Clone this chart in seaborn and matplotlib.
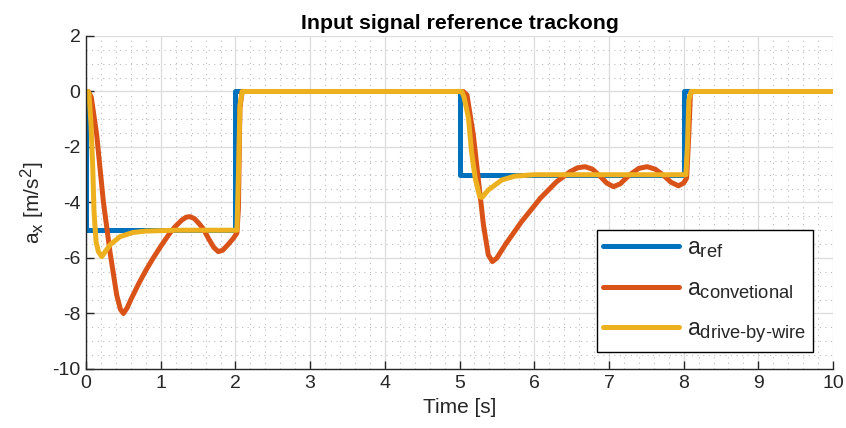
"""Input signal reference tracking plot, MATLAB-like styling."""

import matplotlib

matplotlib.use("Agg")

import matplotlib.pyplot as plt
import matplotlib._mathtext as mathtext_internals
from matplotlib.ticker import MultipleLocator
import seaborn as sns

# reference step signal
t_ref = [0, 0, 2, 2, 5, 5, 8, 8, 10]
a_ref = [0, -5, -5, 0, 0, -3, -3, 0, 0]

# conventional brake response
t_conv = [0, 0.03, 0.07, 0.143, 0.232, 0.32, 0.41, 0.46, 0.5, 0.55, 0.6, 0.7,
          0.8, 0.9, 1.0, 1.12, 1.2, 1.28, 1.34, 1.39, 1.45, 1.51, 1.57, 1.64,
          1.71, 1.77, 1.83, 1.9, 1.97, 2.02, 2.04, 2.06, 2.09, 5.05, 5.1,
          5.185, 5.25, 5.32, 5.385, 5.44, 5.5, 5.61, 5.83, 6.01, 6.08, 6.3,
          6.48, 6.58, 6.68, 6.78, 6.88, 6.97, 7.06, 7.15, 7.27, 7.4, 7.51,
          7.62, 7.73, 7.83, 7.93, 8.0, 8.04, 8.07, 8.09, 8.12, 10]
a_conv = [0, 0, -0.2, -1.57, -3.97, -5.77, -7.33, -7.85, -8.0, -7.8, -7.5,
          -6.95, -6.45, -6.0, -5.58, -5.11, -4.85, -4.64, -4.53, -4.51,
          -4.58, -4.75, -4.95, -5.3, -5.62, -5.77, -5.72, -5.52, -5.3,
          -5.1, -4.2, -0.6, 0, 0, -0.13, -1.57, -3.13, -4.81, -5.89, -6.13,
          -6.0, -5.53, -4.69, -4.09, -3.85, -3.25, -2.89, -2.75, -2.71,
          -2.8, -3.05, -3.3, -3.43, -3.33, -3.02, -2.77, -2.71, -2.8, -3.02,
          -3.27, -3.4, -3.3, -3.12, -1.5, -0.1, 0, 0]

# drive-by-wire response
t_dbw = [0, 0.03, 0.04, 0.067, 0.09, 0.107, 0.134, 0.165, 0.21, 0.25, 0.32,
         0.455, 0.63, 0.8, 1.2, 2.02, 2.04, 2.06, 2.09, 5.03, 5.06, 5.12,
         5.16, 5.21, 5.27, 5.3, 5.385, 5.565, 5.74, 6.0, 8.03, 8.05, 8.07,
         8.1, 10]
a_dbw = [0, 0, -0.1, -1.2, -2.77, -4.33, -5.41, -5.77, -5.95, -5.8, -5.53,
         -5.23, -5.08, -5.03, -5.0, -5.0, -3.0, -0.5, 0, 0, -0.2, -0.97,
         -2.17, -3.13, -3.79, -3.82, -3.55, -3.19, -3.05, -3.0, -3.0, -2.0,
         -0.3, 0, 0]

COLORS = ["#0072BD", "#D95319", "#EDB120"]

sns.set_theme(style="white")
plt.rcParams["font.family"] = ["Liberation Sans", "DejaVu Sans"]
plt.rcParams["mathtext.fontset"] = "custom"
plt.rcParams["mathtext.rm"] = "Liberation Sans"
plt.rcParams["mathtext.it"] = "Liberation Sans"
plt.rcParams["mathtext.default"] = "regular"
plt.rcParams["axes.unicode_minus"] = False
# MATLAB's tex interpreter draws sub/superscripts larger than mathtext does
mathtext_internals.SHRINK_FACTOR = 0.8

fig = plt.figure(figsize=(8.46, 4.28), dpi=100)
ax = fig.add_axes([0.1017, 0.1379, 0.883, 0.778])

series = [
    (t_ref, a_ref, r"$a_{ref}$"),
    (t_conv, a_conv, r"$a_{convetional}$"),
    (t_dbw, a_dbw, r"$a_{drive\text{-}by\text{-}wire}$"),
]
for color, (t, a, label) in zip(COLORS, series):
    sns.lineplot(x=t, y=a, ax=ax, color=color, lw=3.6, label=label,
                 sort=False, estimator=None, solid_joinstyle="round")

ax.set_xlim(0, 10)
ax.set_ylim(-10, 2)
ax.xaxis.set_major_locator(MultipleLocator(1))
ax.yaxis.set_major_locator(MultipleLocator(2))
ax.xaxis.set_minor_locator(MultipleLocator(0.2))
ax.yaxis.set_minor_locator(MultipleLocator(0.5))

ax.grid(True, which="major", color="#dcdcdc", lw=0.9, ls="-")
ax.grid(True, which="minor", color="#bdbdbd", lw=0.8, ls=(0, (1, 4)))
ax.set_axisbelow(True)

for side in ["top", "right"]:
    ax.spines[side].set_visible(False)
for side in ["left", "bottom"]:
    ax.spines[side].set_color("#262626")
    ax.spines[side].set_linewidth(1.0)

ax.tick_params(which="major", direction="in", length=6, width=1,
               colors="#262626", labelsize=14, left=True, bottom=True, pad=4)
ax.tick_params(which="minor", length=0)

ax.set_title("Input signal reference trackong", fontsize=15.3,
             fontweight="bold", color="black", pad=5)
ax.set_xlabel("Time [s]", fontsize=15, color="#262626", labelpad=5)
ax.set_ylabel(r"$a_x$ [m/s$^2$]", fontsize=15, color="#262626", labelpad=4)

leg = ax.legend(loc="lower right", bbox_to_anchor=(0.973, 0.051),
                borderaxespad=0, fontsize=16.5, handlelength=3.3,
                fancybox=False, framealpha=1, edgecolor="black",
                labelspacing=0.72, handletextpad=0.35, borderpad=0.3)
leg.get_frame().set_linewidth(1.0)

fig.savefig("out.png", dpi=100)
plt.close(fig)
